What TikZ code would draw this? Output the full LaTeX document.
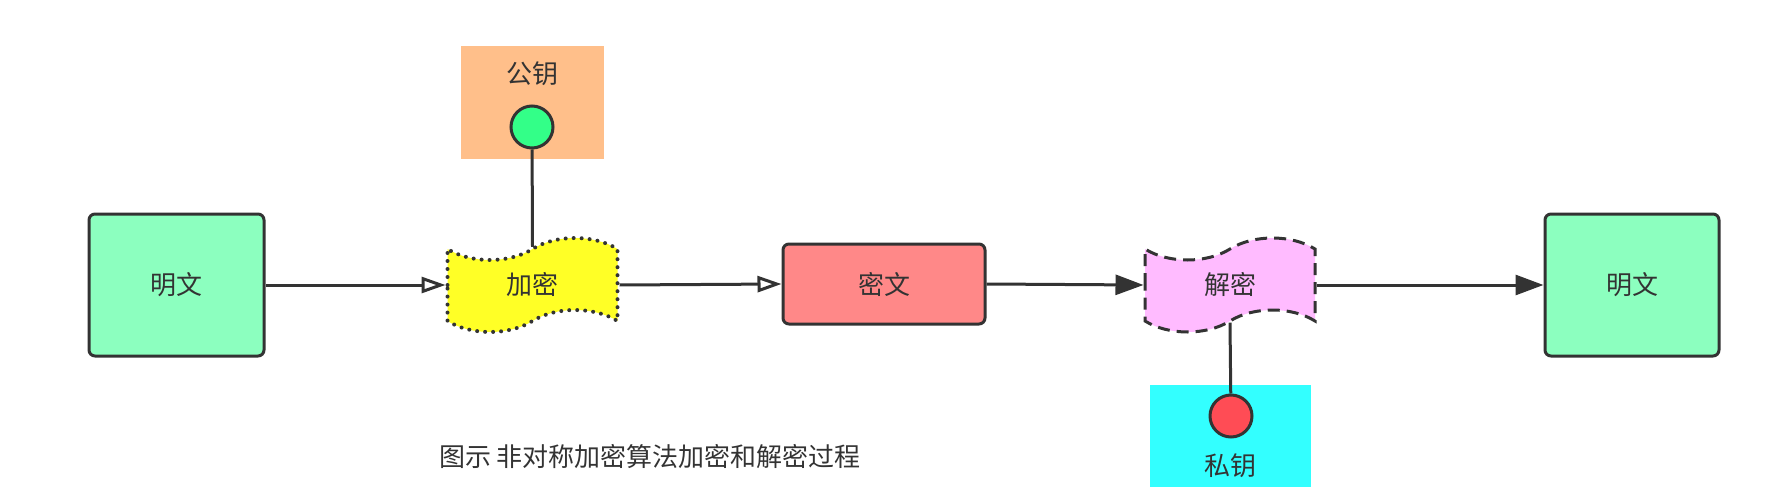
\documentclass[tikz,border=0pt]{standalone}
\usepackage{fontspec}
\setmainfont{Noto Sans CJK SC}
\usetikzlibrary{shapes.symbols,arrows.meta}

\definecolor{linecol}{HTML}{333333}
\definecolor{plaincol}{HTML}{8CFFBF}
\definecolor{enccol}{HTML}{FFFF26}
\definecolor{deccol}{HTML}{FFBBFF}
\definecolor{ciphercol}{HTML}{FF8888}
\definecolor{pubcol}{HTML}{FFBF8A}
\definecolor{privcol}{HTML}{33FFFF}
\definecolor{pubdot}{HTML}{33FF88}
\definecolor{privdot}{HTML}{FF4C55}

\begin{document}
\begin{tikzpicture}[x=0.5pt,y=-0.5pt,
    every node/.style={text=linecol, font=\fontsize{13pt}{15pt}\selectfont},
    textbox/.style={draw=linecol, line width=1.5pt, rounded corners=3pt},
    wave/.style={tape, draw=linecol, line width=1.5pt, minimum width=85pt,
        minimum height=47pt, tape bend height=11pt},
    keybox/.style={inner sep=0pt},
    keydot/.style={circle, draw=linecol, line width=1.5pt, minimum size=21pt, inner sep=0pt},
    link/.style={draw=linecol, line width=1.5pt},
    openarrow/.style={link, -{Triangle[open, length=12pt, width=8pt]}},
    fullarrow/.style={link, -{Triangle[length=14pt, width=10pt]}}]

    % canvas
    \useasboundingbox (0,0) rectangle (1784,492);

    % key boxes
    \node[keybox, fill=pubcol, minimum width=71.5pt, minimum height=56.5pt] (pubbox) at (532.5,102.5) {};
    \node (pubtext) at (532.5,74) {公钥};
    \node[keydot, fill=pubdot] (pubdot) at (532,127) {};
    \node[keybox, fill=privcol, minimum width=80.5pt, minimum height=51pt] (privbox) at (1230.5,436) {};
    \node (privtext) at (1230.5,466) {私钥};
    \node[keydot, fill=privdot] (privdot) at (1231,416) {};

    % main flow
    \node[textbox, fill=plaincol, minimum width=87.5pt, minimum height=71pt] (plainin) at (176.5,285) {明文};
    \node[wave, fill=enccol, line cap=round, dash pattern=on 0pt off 4pt, line width=2pt] (enc) at (532.5,285) {加密};
    \node[textbox, fill=ciphercol, minimum width=101pt, minimum height=40pt] (cipher) at (884,284) {密文};
    \node[wave, fill=deccol, dash pattern=on 6pt off 3.5pt] (dec) at (1230,285) {解密};
    \node[textbox, fill=plaincol, minimum width=87pt, minimum height=71pt] (plainout) at (1632,285) {明文};

    % caption
    \node (caption) at (650,457) {图示 非对称加密算法加密和解密过程};

    % connectors
    \draw[link] (pubdot) -- (enc.north);
    \draw[link] (privdot) -- (dec.south);
    \draw[openarrow] (plainin.east) -- (enc.west);
    \draw[openarrow] (enc.east) -- (cipher.west);
    \draw[fullarrow] (cipher.east) -- (dec.west);
    \draw[fullarrow] (dec.east) -- (plainout.west);

\end{tikzpicture}
\end{document}
